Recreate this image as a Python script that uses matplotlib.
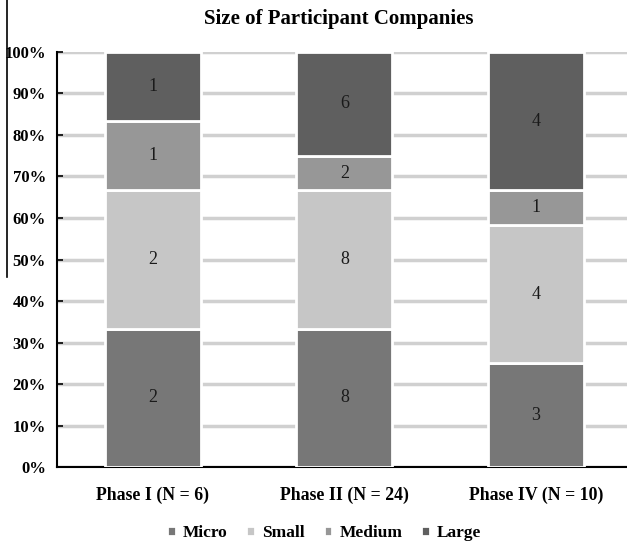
import numpy as np
import matplotlib
matplotlib.use("Agg")
import matplotlib.pyplot as plt
from matplotlib.lines import Line2D

# 数据
phases = ["Phase I (N = 6)", "Phase II (N = 24)", "Phase IV (N = 10)"]
sizes = ["Micro", "Small", "Medium", "Large"]
micro = [2, 8, 3]
small = [2, 8, 4]
medium = [1, 2, 1]
large = [1, 6, 4]
colors = ["#777777", "#c6c6c6", "#979797", "#5f5f5f"]

plt.rcParams['font.family'] = ['Liberation Serif', 'DejaVu Serif']

counts = np.array([micro, small, medium, large], float)
totals = counts.sum(axis=0)
pct = counts / totals * 100

fig = plt.figure(figsize=(6.27, 5.45), dpi=100)
ax = fig.add_axes([0.0909, 0.1431, 0.9091, 0.7615])

x = np.arange(len(phases))
bottom = np.zeros(len(phases))
for i in range(len(sizes)):
    ax.bar(x, pct[i], 0.5, bottom=bottom, color=colors[i], edgecolor="white",
           linewidth=2, label=sizes[i], zorder=3)
    for j in range(len(phases)):
        ax.text(x[j], bottom[j] + pct[i][j] / 2, "%d" % counts[i][j],
                ha="center", va="center", fontsize=13, color="#1a1a1a", zorder=4)
    bottom = bottom + pct[i]

ax.set_ylim(0, 100)
ax.set_xlim(-0.5, 2.475)
ax.set_yticks(np.arange(0, 101, 10))
ax.set_yticklabels(["%d%%" % v for v in range(0, 101, 10)], fontsize=12, fontweight="bold")
ax.set_xticks(x)
ax.set_xticklabels(phases, fontsize=12.8, fontweight="bold")
ax.tick_params(axis="x", length=0, pad=14)
ax.tick_params(axis="y", length=4, width=1.2, direction="in", pad=8)
ax.yaxis.grid(True, color="#d0d0d0", linewidth=2.5, zorder=0)
ax.set_axisbelow(True)
for s in ["top", "right"]:
    ax.spines[s].set_visible(False)
ax.spines["left"].set_linewidth(1.5)
ax.spines["bottom"].set_linewidth(1.5)

fig.text(0.54, 0.965, "Size of Participant Companies", ha="center", va="center",
         fontsize=15, fontweight="bold")

leg = fig.legend(loc="center", bbox_to_anchor=(0.517, 0.022), ncol=4, frameon=False,
                 fontsize=12.5, handlelength=0.5, handleheight=0.5, handletextpad=0.4,
                 columnspacing=1.1)
for t in leg.get_texts():
    t.set_fontweight("bold")

# 左边的竖线
fig.add_artist(Line2D([0.011, 0.011], [1.0, 0.492], color="black", linewidth=1.2))

fig.savefig("out.png", dpi=100)
